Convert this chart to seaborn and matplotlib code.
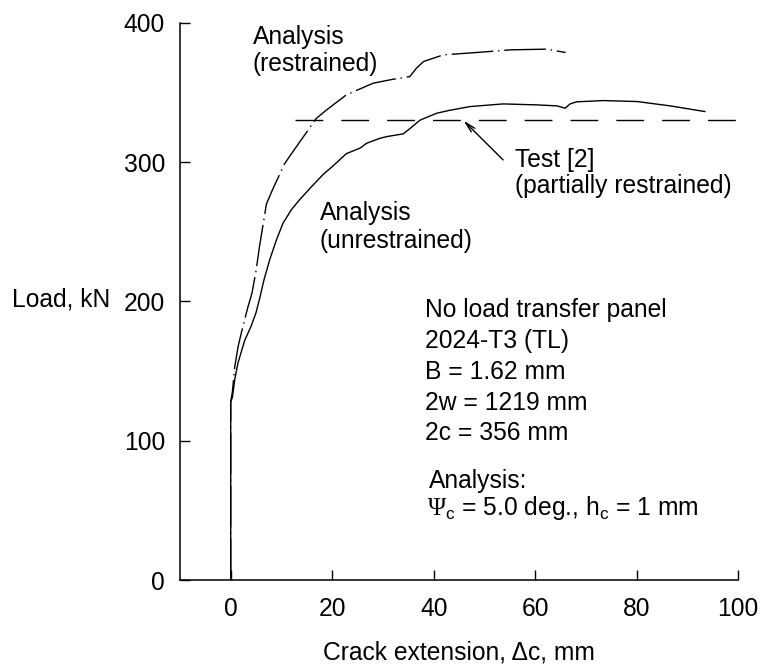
import matplotlib
matplotlib.use("Agg")
import matplotlib.pyplot as plt
import seaborn as sns
import numpy as np

# ---- data ----
unres_x = [0, 0, 0.33, 0.8, 1.45, 2.76, 4.0, 5.0, 5.7, 6.6, 7.7, 9.0, 10.3, 12.0, 13.6,
           15.6, 18.2, 20.1, 22.8, 25.5, 26.8, 29.4, 30.7, 34.0, 35.0, 37.3, 40.6, 43.0,
           47.2, 53.7, 60.3, 64.3, 65.9, 66.9, 68.2, 73.5, 80.1, 86.6, 93.5]
unres_y = [0, 128, 131, 144, 156, 172, 182, 192, 202, 216, 230, 244, 256, 266, 273,
           281, 291, 297, 306, 310, 313.5, 317, 318.2, 320.2, 323, 330, 335, 337,
           339.8, 341.7, 341, 340.3, 338.6, 341.7, 343.2, 344.1, 343.4, 340.3, 336.2]

res_x = [0, 0, 0.33, 0.8, 1.45, 2.4, 3.4, 4.2, 5.0, 5.7, 7.05, 8.35, 10.66, 11.6, 14.3,
         16.9, 18.9, 22.8, 28.1, 32.0, 35.3, 36.6, 38.0, 41.9, 48.5, 55.1, 62.3, 66.0]
res_y = [0, 128, 135, 153, 167.5, 182, 196, 206, 222, 240, 270, 281, 299, 304, 318,
         331.4, 337.4, 348.2, 356.6, 359.4, 361.3, 367.3, 372.1, 376.9, 378.6, 380.5, 381, 378.6]

test_x = [12.6, 100]
test_y = [330, 330]

x_ticks = [0, 20, 40, 60, 80, 100]
y_ticks = [0, 100, 200, 300, 400]

# ---- style ----
sns.set_style("ticks")
plt.rcParams['font.family'] = ['Liberation Sans', 'DejaVu Sans']
plt.rcParams['text.color'] = 'black'
plt.rcParams['axes.labelcolor'] = 'black'
plt.rcParams['xtick.color'] = 'black'
plt.rcParams['ytick.color'] = 'black'
plt.rcParams['mathtext.fontset'] = 'custom'
plt.rcParams['mathtext.rm'] = 'Liberation Serif'
plt.rcParams['mathtext.sf'] = 'Liberation Sans'
plt.rcParams['mathtext.it'] = 'Liberation Sans:italic'
FS = 17.7

fig = plt.figure(figsize=(7.61, 6.67), dpi=100)
ax = fig.add_axes([0.2365, 0.1304, 0.7333, 0.8356])

sns.lineplot(x=unres_x, y=unres_y, sort=False, estimator=None, color='black',
             lw=1.0, ax=ax)
sns.lineplot(x=res_x, y=res_y, sort=False, estimator=None, color='black',
             lw=1.0, linestyle=(0, (30, 3.5, 1, 3.5)), ax=ax)
sns.lineplot(x=test_x, y=test_y, sort=False, estimator=None, color='black',
             lw=1.0, linestyle=(0, (20, 13)), ax=ax)

ax.set_xlim(-10, 100)
ax.set_ylim(0, 400)
ax.set_xticks(x_ticks)
ax.set_yticks(y_ticks)
ax.set_xticklabels([str(v) for v in x_ticks])
ax.set_yticklabels([str(v) for v in y_ticks])
ax.tick_params(axis='both', direction='in', length=7.2, width=1.0, labelsize=FS,
               colors='black', labelcolor='black')
ax.tick_params(axis='x', pad=12.5)
ax.tick_params(axis='y', pad=10.8)
for s in ['top', 'right']:
    ax.spines[s].set_visible(False)
for s in ['left', 'bottom']:
    ax.spines[s].set_linewidth(1.1)
    ax.spines[s].set_color('black')

ax.set_xlabel('Crack extension, \u0394c, mm', fontsize=FS, labelpad=14, color='black')
ax.set_ylabel('Load, kN', fontsize=FS, rotation=0, ha='right', va='baseline',
              color='black')
ax.yaxis.set_label_coords(-0.1254, 0.4904)

PX = 1.393  # pixels per data unit in y
def lines(x, y, txts, step_px):
    for i, t in enumerate(txts):
        ax.text(x, y - i * step_px / PX, t, fontsize=FS, ha='left', va='baseline',
                color='black')

lines(4.34, 384.6, ['Analysis', '(restrained)'], 27)
lines(17.6, 258.4, ['Analysis', '(unrestrained)'], 28)
lines(56.05, 296.7, ['Test [2]', '(partially restrained)'], 26.7)
lines(38.3, 188.6, ['No load transfer panel', '2024-T3 (TL)', 'B = 1.62 mm',
                    '2w = 1219 mm', '2c = 356 mm'], 30.8)
ax.text(39.1, 66.0, 'Analysis:', fontsize=FS, ha='left', va='baseline', color='black')
ax.text(38.6, 46.7, r'$\Psi_\mathsf{c}$ = 5.0 deg., h$_\mathsf{c}$ = 1 mm',
        fontsize=FS, ha='left', va='baseline', color='black')

ax.annotate('', xy=(45.9, 329.7), xytext=(53.7, 301.5),
            arrowprops=dict(arrowstyle='->,head_length=0.75,head_width=0.18',
                            lw=1.0, color='black', shrinkA=0, shrinkB=0))

fig.savefig('out.png', dpi=100)
